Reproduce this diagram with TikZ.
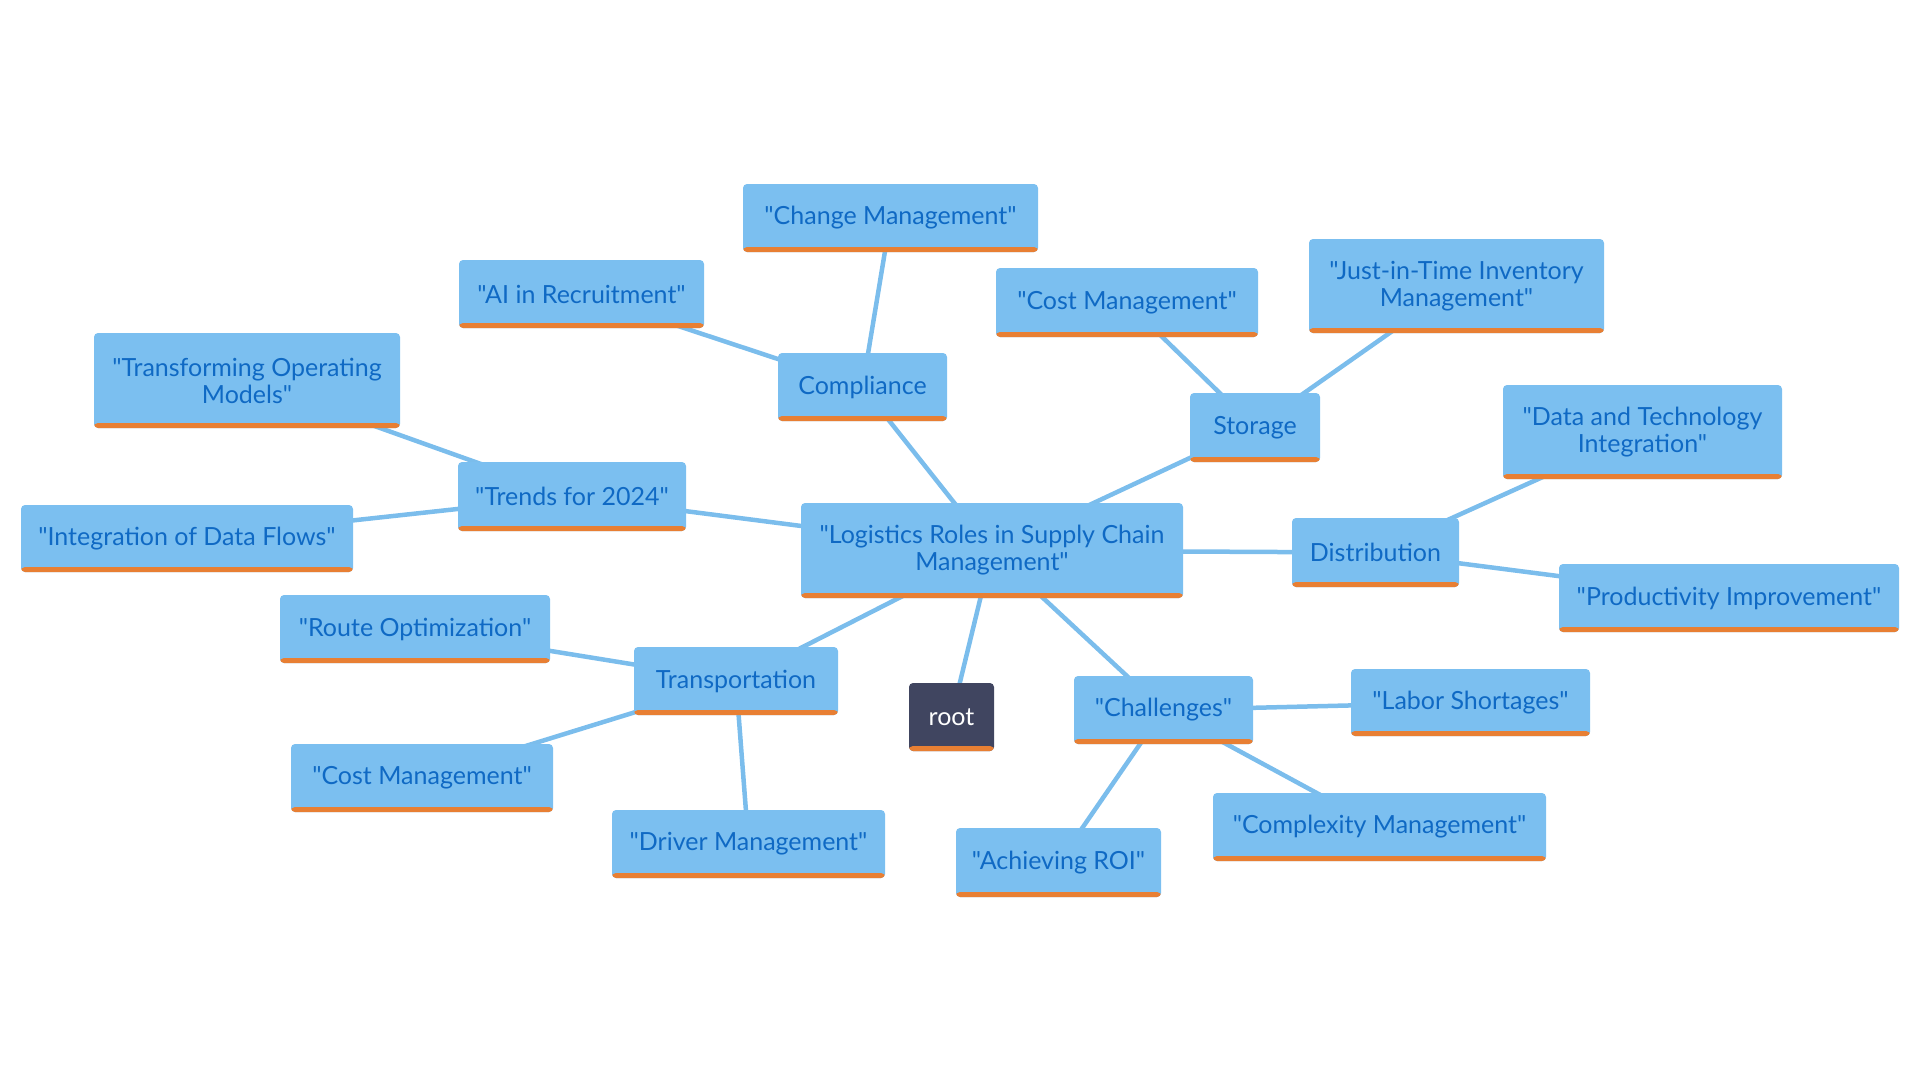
\documentclass[tikz,border=0pt]{standalone}
\usepackage{fontspec}
\setmainfont{Lato}[Ligatures=TeXOff]
\usetikzlibrary{backgrounds}
\definecolor{boxblue}{HTML}{7BBFF0}
\definecolor{txtblue}{HTML}{0F69C4}
\definecolor{barorange}{HTML}{E87F33}
\definecolor{rootfill}{HTML}{404560}
\definecolor{linkblue}{HTML}{7BBDEC}
\tikzset{
  box/.style={rectangle, rounded corners=4pt, fill=boxblue, text=txtblue, align=center,
    font=\fontsize{25}{27}\selectfont, inner sep=0pt,
    path picture={\fill[barorange] (path picture bounding box.south west) rectangle ([yshift=5pt]path picture bounding box.south east);}},
  rootbox/.style={box, fill=rootfill, text=white},
  link/.style={draw=linkblue, line width=4.5pt},
  sz/.style 2 args={minimum width=#1pt, minimum height=#2pt}
}
\begin{document}
\begin{tikzpicture}[x=1pt,y=-1pt]
\useasboundingbox (0,0) rectangle (1920,1080);
% nodes
\node[box, sz={382}{95}] (main) at (992,550.5) {"Logistics Roles in Supply Chain\\Management"};
\node[rootbox, sz={85}{68}] (root) at (951.5,717) {root};
\node[box, sz={169}{68}] (comp) at (862.5,387) {Compliance};
\node[box, sz={295}{68}] (change) at (890.5,218) {"Change Management"};
\node[box, sz={245}{68}] (ai) at (581.5,294) {"AI in Recruitment"};
\node[box, sz={130}{69}] (stor) at (1255,427.5) {Storage};
\node[box, sz={262}{69}] (costs) at (1127,302.5) {"Cost Management"};
\node[box, sz={295}{94}] (jit) at (1456.5,286) {"Just-in-Time Inventory\\Management"};
\node[box, sz={167}{69}] (dist) at (1375.5,552.5) {Distribution};
\node[box, sz={279}{94}] (data) at (1642.5,432) {"Data and Technology\\Integration"};
\node[box, sz={340}{68}] (prod) at (1729,598) {"Productivity Improvement"};
\node[box, sz={179}{68}] (chal) at (1163.5,710) {"Challenges"};
\node[box, sz={239}{67}] (labor) at (1470.5,702.5) {"Labor Shortages"};
\node[box, sz={333}{68}] (cplx) at (1379.5,827) {"Complexity Management"};
\node[box, sz={205}{69}] (roi) at (1058.5,862.5) {"Achieving ROI"};
\node[box, sz={204}{68}] (trans) at (736,681) {Transportation};
\node[box, sz={270}{68}] (route) at (415,629) {"Route Optimization"};
\node[box, sz={262}{68}] (costt) at (422,778) {"Cost Management"};
\node[box, sz={273}{68}] (driver) at (748.5,844) {"Driver Management"};
\node[box, sz={228}{69}] (trends) at (572,496.5) {"Trends for 2024"};
\node[box, sz={306}{95}] (tom) at (247,380.5) {"Transforming Operating\\Models"};
\node[box, sz={332}{67}] (idf) at (187,538.5) {"Integration of Data Flows"};
% links
\begin{scope}[on background layer]
\draw[link] (main.center) -- (root.center);
\draw[link] (main.center) -- (comp.center);
\draw[link] (comp.center) -- (change.center);
\draw[link] (comp.center) -- (ai.center);
\draw[link] (main.center) -- (stor.center);
\draw[link] (stor.center) -- (costs.center);
\draw[link] (stor.center) -- (jit.center);
\draw[link] (main.center) -- (dist.center);
\draw[link] (dist.center) -- (data.center);
\draw[link] (dist.center) -- (prod.center);
\draw[link] (main.center) -- (chal.center);
\draw[link] (chal.center) -- (labor.center);
\draw[link] (chal.center) -- (cplx.center);
\draw[link] (chal.center) -- (roi.center);
\draw[link] (main.center) -- (trans.center);
\draw[link] (trans.center) -- (route.center);
\draw[link] (trans.center) -- (costt.center);
\draw[link] (trans.center) -- (driver.center);
\draw[link] (main.center) -- (trends.center);
\draw[link] (trends.center) -- (tom.center);
\draw[link] (trends.center) -- (idf.center);
\end{scope}
\end{tikzpicture}
\end{document}
